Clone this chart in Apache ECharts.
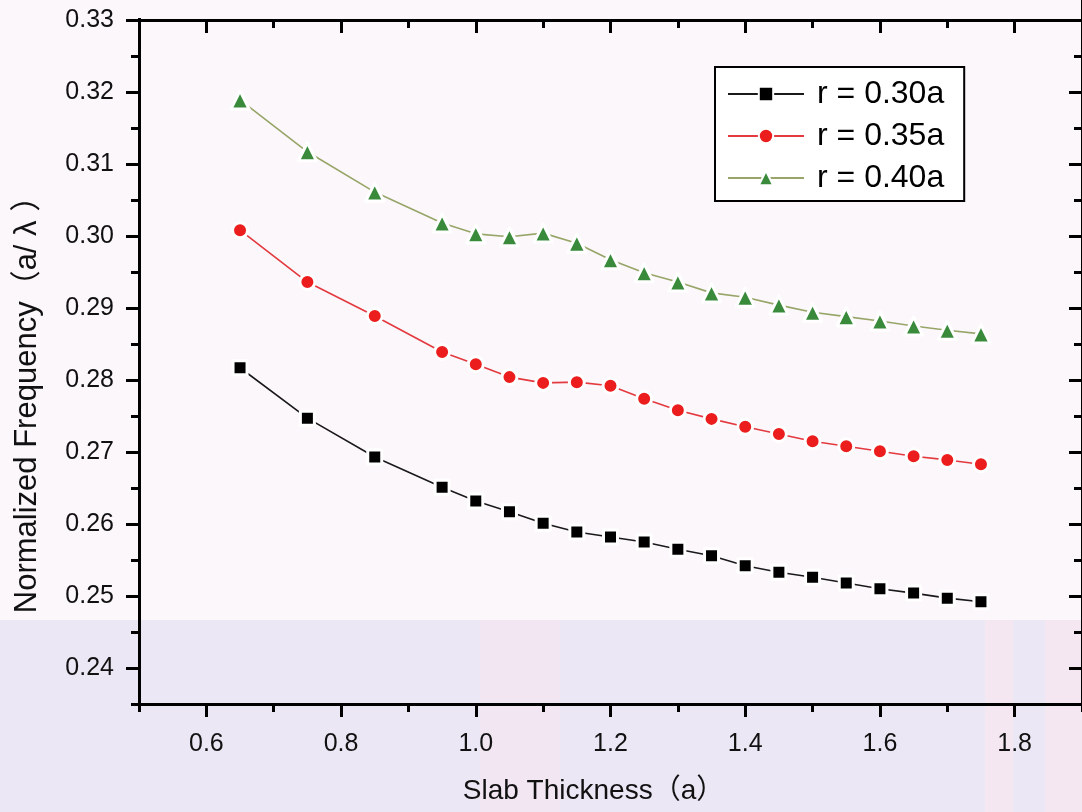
<!DOCTYPE html>
<html>
<head>
<meta charset="utf-8">
<title>Normalized Frequency vs Slab Thickness</title>
<script src="https://cdn.jsdelivr.net/npm/echarts@6/dist/echarts.min.js"></script>
<style>
  html, body { margin: 0; padding: 0; background: #fcf7fb; overflow: hidden; }
  /* the canvas starts a little above the page so the y range can run
     half a step past the frame top */
  #chart { width: 1082px; height: 828px; margin-top: -16px; }
</style>
</head>
<body>
<div id="chart"></div>
<script>
// Slab thickness (in units of a)
const thickness = [0.65, 0.75, 0.85, 0.95, 1.0, 1.05, 1.1, 1.15, 1.2, 1.25, 1.3, 1.35, 1.4, 1.45, 1.5, 1.55, 1.6, 1.65, 1.7, 1.75];

// Normalized frequency (a/λ) for each hole radius
const r030 = [0.2817, 0.2747, 0.2693, 0.2651, 0.2632, 0.2617, 0.2601, 0.2589, 0.2582, 0.2575, 0.2565, 0.2556, 0.2542, 0.2533, 0.2526, 0.2518, 0.2510, 0.2504, 0.2497, 0.2492];
const r035 = [0.3008, 0.2936, 0.2889, 0.2839, 0.2822, 0.2804, 0.2796, 0.2797, 0.2792, 0.2774, 0.2758, 0.2746, 0.2735, 0.2725, 0.2715, 0.2708, 0.2701, 0.2694, 0.2689, 0.2683];
const r040 = [0.3189, 0.3117, 0.3061, 0.3018, 0.3003, 0.2999, 0.3004, 0.2990, 0.2967, 0.2949, 0.2936, 0.2921, 0.2915, 0.2904, 0.2894, 0.2888, 0.2882, 0.2875, 0.2869, 0.2864];

const seriesNames = ['r = 0.30a', 'r = 0.35a', 'r = 0.40a'];

// Labelled tick values
const xMajorTicks = [0.6, 0.8, 1.0, 1.2, 1.4, 1.6, 1.8];
const yMajorTicks = [0.24, 0.25, 0.26, 0.27, 0.28, 0.29, 0.30, 0.31, 0.32, 0.33];

// Axis ranges. The short ticks fall half-way between the labelled ones,
// so each axis steps from a half-step value and the labelled ticks are
// drawn as the (longer) minor ticks. The y range runs one half-step past
// the frame top (0.33) so its last labelled tick lands on the frame.
const X_MIN = 0.5, X_MAX = 1.9, X_STEP = 0.2;
const Y_MIN = 0.235, Y_MAX = 0.335, Y_STEP = 0.01, Y_FRAME_TOP = 0.33;

const FONT = "'Liberation Sans', Arial, 'Noto Sans CJK JP', sans-serif";
const INK = '#000';

function pairs(xs, ys) { return xs.map((x, i) => [x, ys[i]]); }

// Frame geometry in canvas pixels (canvas is shifted up by SHIFT)
const SHIFT = 16;
const GRID_LEFT = 139, GRID_WIDTH = 945;
const FRAME_TOP = 20 + SHIFT, FRAME_BOTTOM = 704 + SHIFT;
const pxPerY = (FRAME_BOTTOM - FRAME_TOP) / (Y_FRAME_TOP - Y_MIN);
const overshoot = (Y_MAX - Y_FRAME_TOP) * pxPerY;

function frameAxis(kind, position, inside, min, max, step, labels, extra) {
  return Object.assign({
    type: 'value', position, min, max, interval: step,
    axisLine: { show: true, onZero: false, lineStyle: { color: INK, width: 3 } },
    axisTick: { show: true, inside, length: 8, lineStyle: { color: INK, width: 3 } },
    minorTick: { show: true, splitNumber: 2, length: 13, lineStyle: { color: INK, width: 3 } },
    axisLabel: labels
      ? { show: true, customValues: labels, formatter: v => (+v).toFixed(kind === 'y' ? 2 : 1),
          fontFamily: FONT, fontSize: 25, color: '#111', margin: kind === 'y' ? 25 : 28 }
      : { show: false },
    splitLine: { show: false },
    minorSplitLine: { show: false }
  }, extra || {});
}

const chart = echarts.init(document.getElementById('chart'), null, { renderer: 'canvas' });

const symbolBorder = { borderColor: '#ffffff', borderWidth: 3, borderJoin: 'round' };
const BG = '#fcf7fb';

chart.setOption({
  backgroundColor: 'transparent',
  animation: false,
  graphic: [
    { type: 'rect', z: -10, silent: true, shape: { x: 0, y: 620 + SHIFT, width: 1082, height: 200 }, style: { fill: '#ebe7f5' } },
    { type: 'rect', z: -9, silent: true, shape: { x: 480, y: 620 + SHIFT, width: 80, height: 200 }, style: { fill: '#f1e6f2' } },
    { type: 'rect', z: -9, silent: true, shape: { x: 985, y: 620 + SHIFT, width: 28, height: 200 }, style: { fill: '#f4e7f2' } },
    { type: 'rect', z: -9, silent: true, shape: { x: 1045, y: 620 + SHIFT, width: 37, height: 200 }, style: { fill: '#f4e7f2' } },
    // page margin above the frame (the left axis line runs on past the frame top)
    { type: 'rect', z: 100, silent: true, shape: { x: 120, y: 0, width: 40, height: FRAME_TOP - 2 }, style: { fill: BG } }
  ],
  grid: {
    left: GRID_LEFT, top: FRAME_TOP - overshoot, width: GRID_WIDTH,
    height: FRAME_BOTTOM - FRAME_TOP + overshoot, containLabel: false
  },
  legend: {
    orient: 'vertical',
    left: 715, top: 67 + SHIFT,
    backgroundColor: '#ffffff',
    borderColor: INK, borderWidth: 2,
    padding: [11, 20, 7, 12],
    itemWidth: 76, itemHeight: 18, itemGap: 10,
    textStyle: { fontFamily: FONT, fontSize: 32, lineHeight: 32, color: '#000', padding: [0, 0, 0, 8] },
    data: seriesNames
  },
  xAxis: [
    frameAxis('x', 'bottom', false, X_MIN, X_MAX, X_STEP, xMajorTicks, {
      name: 'Slab Thickness（a）', nameLocation: 'middle', nameGap: 73,
      nameTextStyle: { fontFamily: FONT, fontSize: 28, color: '#111', padding: [0, 34, 0, 0] }
    }),
    frameAxis('x', 'top', true, X_MIN, X_MAX, X_STEP, null, { offset: -overshoot })
  ],
  yAxis: [
    frameAxis('y', 'left', false, Y_MIN, Y_MAX, Y_STEP, yMajorTicks, {
      name: 'Normalized Frequency（a/ λ ）', nameLocation: 'middle', nameGap: 96, nameRotate: 90,
      nameTextStyle: { fontFamily: FONT, fontSize: 31, color: '#111', padding: [0, 106, 0, 0] }
    }),
    frameAxis('y', 'right', true, Y_MIN, Y_MAX, Y_STEP, null)
  ],
  series: [
    {
      name: seriesNames[0], type: 'line', xAxisIndex: 0, yAxisIndex: 0,
      data: pairs(thickness, r030),
      symbol: 'rect', symbolSize: 14,
      lineStyle: { color: '#1a1a1a', width: 1.6 },
      itemStyle: Object.assign({ color: '#000' }, symbolBorder),
      z: 3
    },
    {
      name: seriesNames[1], type: 'line', xAxisIndex: 0, yAxisIndex: 0,
      data: pairs(thickness, r035),
      symbol: 'circle', symbolSize: 15,
      lineStyle: { color: '#e23a3f', width: 1.6 },
      itemStyle: Object.assign({ color: '#ec1d1d' }, symbolBorder),
      z: 3
    },
    {
      name: seriesNames[2], type: 'line', xAxisIndex: 0, yAxisIndex: 0,
      data: pairs(thickness, r040),
      symbol: 'triangle', symbolSize: 18,
      lineStyle: { color: '#97a668', width: 1.6 },
      itemStyle: Object.assign({ color: '#3a8a3c' }, symbolBorder),
      z: 3
    }
  ]
});
</script>
</body>
</html>
